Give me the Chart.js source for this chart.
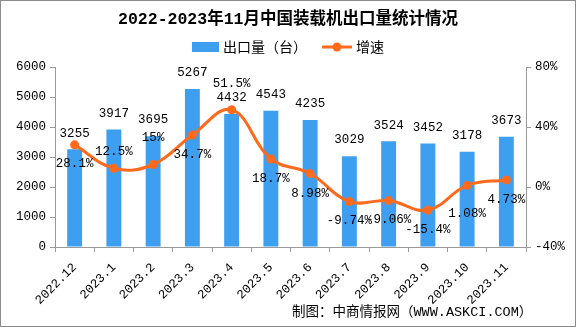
<!DOCTYPE html>
<html><head><meta charset="utf-8">
<script src="https://cdn.jsdelivr.net/npm/chart.js@4/dist/chart.umd.min.js"></script>
<style>html,body{margin:0;padding:0;background:#fff;overflow:hidden}#wrap{width:576px;height:327px;position:relative}canvas{display:block}</style>
</head><body><div id="wrap"><canvas id="c" width="576" height="327"></canvas></div>
<script>
const titleText = '2022-2023年11月中国装载机出口量统计情况';
const footerText = '制图：中商情报网（WWW.ASKCI.COM）';
const seriesNames = ['出口量（台）', '增速'];
const categories = ['2022.12','2023.1','2023.2','2023.3','2023.4','2023.5','2023.6','2023.7','2023.8','2023.9','2023.10','2023.11'];
const exportVolume = [3255,3917,3695,5267,4432,4543,4235,3029,3524,3452,3178,3673];
const growthRate = [28.1,12.5,15,34.7,51.5,18.7,8.98,-9.74,-9.06,-15.4,1.08,4.73];
const leftAxis = {min:0, max:6000, step:1000};
const rightAxis = {min:-40, max:80, step:40};

const BLUE = '#3E9FF1';
const ORANGE = '#FF6A1C';
const AXIS = '#9a9a9a';
const MONO = "'Liberation Mono','Noto Sans CJK SC',monospace";
const CJK = "'Noto Sans CJK SC','Liberation Mono',sans-serif";

// label offsets relative to each growth point (config, not data)
const growthLabelOffset = [19,-17,-27,20,-26,20,20,19,19,20,28,20];
const barLabelOffset = 16;

Chart.defaults.font.family = MONO;
Chart.defaults.font.size = 12.5;
Chart.defaults.color = '#000';

const decor = {
  id: 'decor',
  afterDatasetsDraw(chart) {
    const ctx = chart.ctx;
    ctx.save();
    ctx.fillStyle = '#000';
    ctx.font = '12.5px ' + MONO;
    ctx.textAlign = 'center';
    ctx.textBaseline = 'middle';
    const barMeta = chart.getDatasetMeta(0);
    barMeta.data.forEach((el, i) => {
      ctx.fillText(String(exportVolume[i]), el.x, el.y - barLabelOffset);
    });
    const lineMeta = chart.getDatasetMeta(1);
    lineMeta.data.forEach((el, i) => {
      ctx.fillText(String(growthRate[i]) + '%', el.x, el.y + growthLabelOffset[i]);
    });
    ctx.restore();
  },
  afterDraw(chart) {
    const ctx = chart.ctx;
    ctx.save();
    // title
    ctx.fillStyle = '#000';
    ctx.textAlign = 'center';
    ctx.textBaseline = 'middle';
    ctx.font = "bold 16.5px 'Liberation Mono','Noto Sans CJK SC',monospace";
    ctx.fillText(titleText, 288, 20);
    // legend
    ctx.fillStyle = BLUE;
    ctx.fillRect(192, 42, 27, 10);
    ctx.fillStyle = '#000';
    ctx.textAlign = 'left';
    ctx.font = '14px ' + CJK;
    ctx.fillText(seriesNames[0], 223, 47);
    ctx.strokeStyle = ORANGE;
    ctx.lineWidth = 3;
    ctx.beginPath(); ctx.moveTo(322, 47); ctx.lineTo(352, 47); ctx.stroke();
    ctx.fillStyle = ORANGE;
    ctx.beginPath(); ctx.arc(337, 47, 4.5, 0, Math.PI*2); ctx.fill();
    ctx.fillStyle = '#000';
    ctx.fillText(seriesNames[1], 356, 47);
    // footer
    ctx.font = '13.5px ' + MONO;
    ctx.fillText(footerText, 292, 312);
    // border
    ctx.strokeStyle = '#8c8c8c';
    ctx.lineWidth = 1;
    ctx.strokeRect(0.5, 0.5, 575, 326);
    ctx.restore();
  }
};

new Chart(document.getElementById('c'), {
  data: {
    labels: categories,
    datasets: [
      { type:'bar', label: seriesNames[0], data: exportVolume, backgroundColor: BLUE, yAxisID:'y', order: 1,
        barPercentage: 0.38, categoryPercentage: 1.0 },
      { type:'line', label: seriesNames[1], data: growthRate, yAxisID:'y1', order: 0,
        borderColor: ORANGE, backgroundColor: ORANGE, borderWidth: 3, tension: 0.4,
        pointRadius: 4.5, pointBorderWidth: 0, pointBackgroundColor: ORANGE, fill:false }
    ]
  },
  options: {
    responsive: false,
    animation: false,
    devicePixelRatio: 1,
    layout: { padding: { top: 67, left: 0, right: 0, bottom: 0 } },
    plugins: { legend: { display: false }, title: { display: false }, tooltip: { enabled: false } },
    scales: {
      x: {
        grid: { display: true, drawOnChartArea: false, drawTicks: true, tickLength: 5, color: AXIS, offset: true },
        border: { display: true, color: AXIS },
        ticks: { minRotation: 45, maxRotation: 45, autoSkip: false, padding: 8, color: '#000' },
        afterFit(s) { s.height = 80; }
      },
      y: {
        position: 'left', min: leftAxis.min, max: leftAxis.max,
        ticks: { stepSize: leftAxis.step, padding: 4, color: '#000', callback: v => String(v) },
        grid: { drawOnChartArea: false, drawTicks: true, tickLength: 5, color: AXIS },
        border: { display: true, color: AXIS },
        afterFit(s) { s.width = 55; }
      },
      y1: {
        position: 'right', min: rightAxis.min, max: rightAxis.max,
        ticks: { stepSize: rightAxis.step, padding: 4, color: '#000', callback: v => v + '%' },
        grid: { drawOnChartArea: false, drawTicks: true, tickLength: 5, color: AXIS },
        border: { display: true, color: AXIS },
        afterFit(s) { s.width = 50; }
      }
    }
  },
  plugins: [decor]
});
</script>
</body></html>
